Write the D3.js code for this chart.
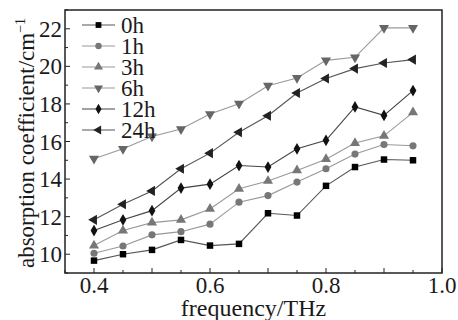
<!DOCTYPE html>
<html><head><meta charset="utf-8">
<script src="https://cdn.jsdelivr.net/npm/d3@7"></script>
<style>body{margin:0;background:#fff}svg{display:block}text{font-family:"Liberation Serif","DejaVu Serif",serif;fill:#1a1a1a}</style>
</head><body>
<script>
const freq = [0.4,0.45,0.5,0.55,0.6,0.65,0.7,0.75,0.8,0.85,0.9,0.95];
const seriesNames = ["0h","1h","3h","6h","12h","24h"];
const v0h  = [9.66,10.0,10.23,10.76,10.46,10.55,12.18,12.06,13.64,14.64,15.04,15.0];
const v1h  = [10.05,10.44,11.03,11.2,11.6,12.77,13.12,13.84,14.55,15.33,15.84,15.77];
const v3h  = [10.46,11.26,11.68,11.83,12.41,13.48,13.9,14.46,15.06,15.92,16.3,17.55];
const v6h  = [15.08,15.61,16.27,16.66,17.46,18.01,18.97,19.38,20.32,20.48,22.05,22.05];
const v12h = [11.26,11.83,12.32,13.52,13.73,14.72,14.64,15.61,16.06,17.84,17.39,18.71];
const v24h = [11.83,12.66,13.37,14.55,15.38,16.49,17.37,18.58,19.35,19.88,20.18,20.36];
const yTicks = [10,12,14,16,18,20,22];
const xTicks = [0.4,0.6,0.8,1.0];

const values = [v0h,v1h,v3h,v6h,v12h,v24h];
const markers = ["square","circle","triangle","triangleDown","diamond","triangleLeft"];
const lineColors = ["#555","#999","#999","#999","#444","#555"];
const markColors = ["#000","#777","#777","#666","#111","#222"];

const W=458,H=320, L=65,T=10,R=442,B=273;
const svg=d3.select("body").append("svg").attr("width",W).attr("height",H);
const x=d3.scaleLinear().domain([0.35,1.0]).range([L,R]);
const y=d3.scaleLinear().domain([9,23]).range([B,T]);

function sym(kind,size){
  if(kind==="square") return d3.symbol(d3.symbolSquare,size)();
  if(kind==="circle") return d3.symbol(d3.symbolCircle,size)();
  if(kind==="diamond") return d3.symbol(d3.symbolDiamond,size)();
  return d3.symbol(d3.symbolTriangle,size)();
}
function rot(kind){ return kind==="triangleDown"?180:kind==="triangleLeft"?-90:0; }
const sizes={square:42,circle:40,triangle:44,triangleDown:44,diamond:40,triangleLeft:44};

// axes ticks (inward)
d3.range(0.35,1.0001,0.05).forEach(t=>{
  const v=Math.round(t*100)/100;
  const major=Math.abs(v*10-Math.round(v*10))<1e-6;
  svg.append("line").attr("x1",x(v)).attr("x2",x(v)).attr("y1",B).attr("y2",B-(major?5:3)).attr("stroke","#222").attr("stroke-width",1);
});
xTicks.forEach(t=>{
  svg.append("text").attr("x",x(t)).attr("y",B+20).attr("text-anchor","middle").attr("font-size",23).text(d3.format(".1f")(t));
});
d3.range(9,24,1).forEach(t=>{
  const major=t%2===0;
  svg.append("line").attr("x1",L).attr("x2",L+(major?5:3)).attr("y1",y(t)).attr("y2",y(t)).attr("stroke","#222");
});
yTicks.forEach(t=>{
  svg.append("text").attr("x",L-3).attr("y",y(t)+8).attr("text-anchor","end").attr("font-size",23).text(t);
});

// series
const line=d3.line().x((d,i)=>x(freq[i])).y(d=>y(d));
values.forEach((vals,s)=>{
  svg.append("path").attr("d",line(vals)).attr("fill","none").attr("stroke",lineColors[s]).attr("stroke-width",1.1);
});
values.forEach((vals,s)=>{
  vals.forEach((v,i)=>{
    svg.append("path").attr("d",sym(markers[s],sizes[markers[s]]))
      .attr("transform",`translate(${x(freq[i])},${y(v)}) rotate(${rot(markers[s])})`)
      .attr("fill",markColors[s]);
  });
});

// frame
svg.append("rect").attr("x",L).attr("y",T).attr("width",R-L).attr("height",B-T).attr("fill","none").attr("stroke","#222").attr("stroke-width",1.5);

// legend
seriesNames.forEach((n,s)=>{
  const ly=25+s*21;
  svg.append("line").attr("x1",82).attr("x2",115).attr("y1",ly).attr("y2",ly).attr("stroke",lineColors[s]).attr("stroke-width",1.1);
  svg.append("path").attr("d",sym(markers[s],sizes[markers[s]]*0.8)).attr("transform",`translate(98.5,${ly}) rotate(${rot(markers[s])})`).attr("fill",markColors[s]);
  svg.append("text").attr("x",121).attr("y",ly+8).attr("font-size",23).text(n);
});

// axis titles
svg.append("text").attr("x",(L+R)/2).attr("y",316).attr("text-anchor","middle").attr("font-size",24).text("frequency/THz");
const yt=svg.append("text").attr("transform",`translate(34,143) rotate(-90)`).attr("text-anchor","middle").attr("font-size",23);
yt.append("tspan").text("absorption coefficient/cm");
yt.append("tspan").attr("dy",-9).attr("font-size",14).text("\u22121");
</script>
</body></html>
